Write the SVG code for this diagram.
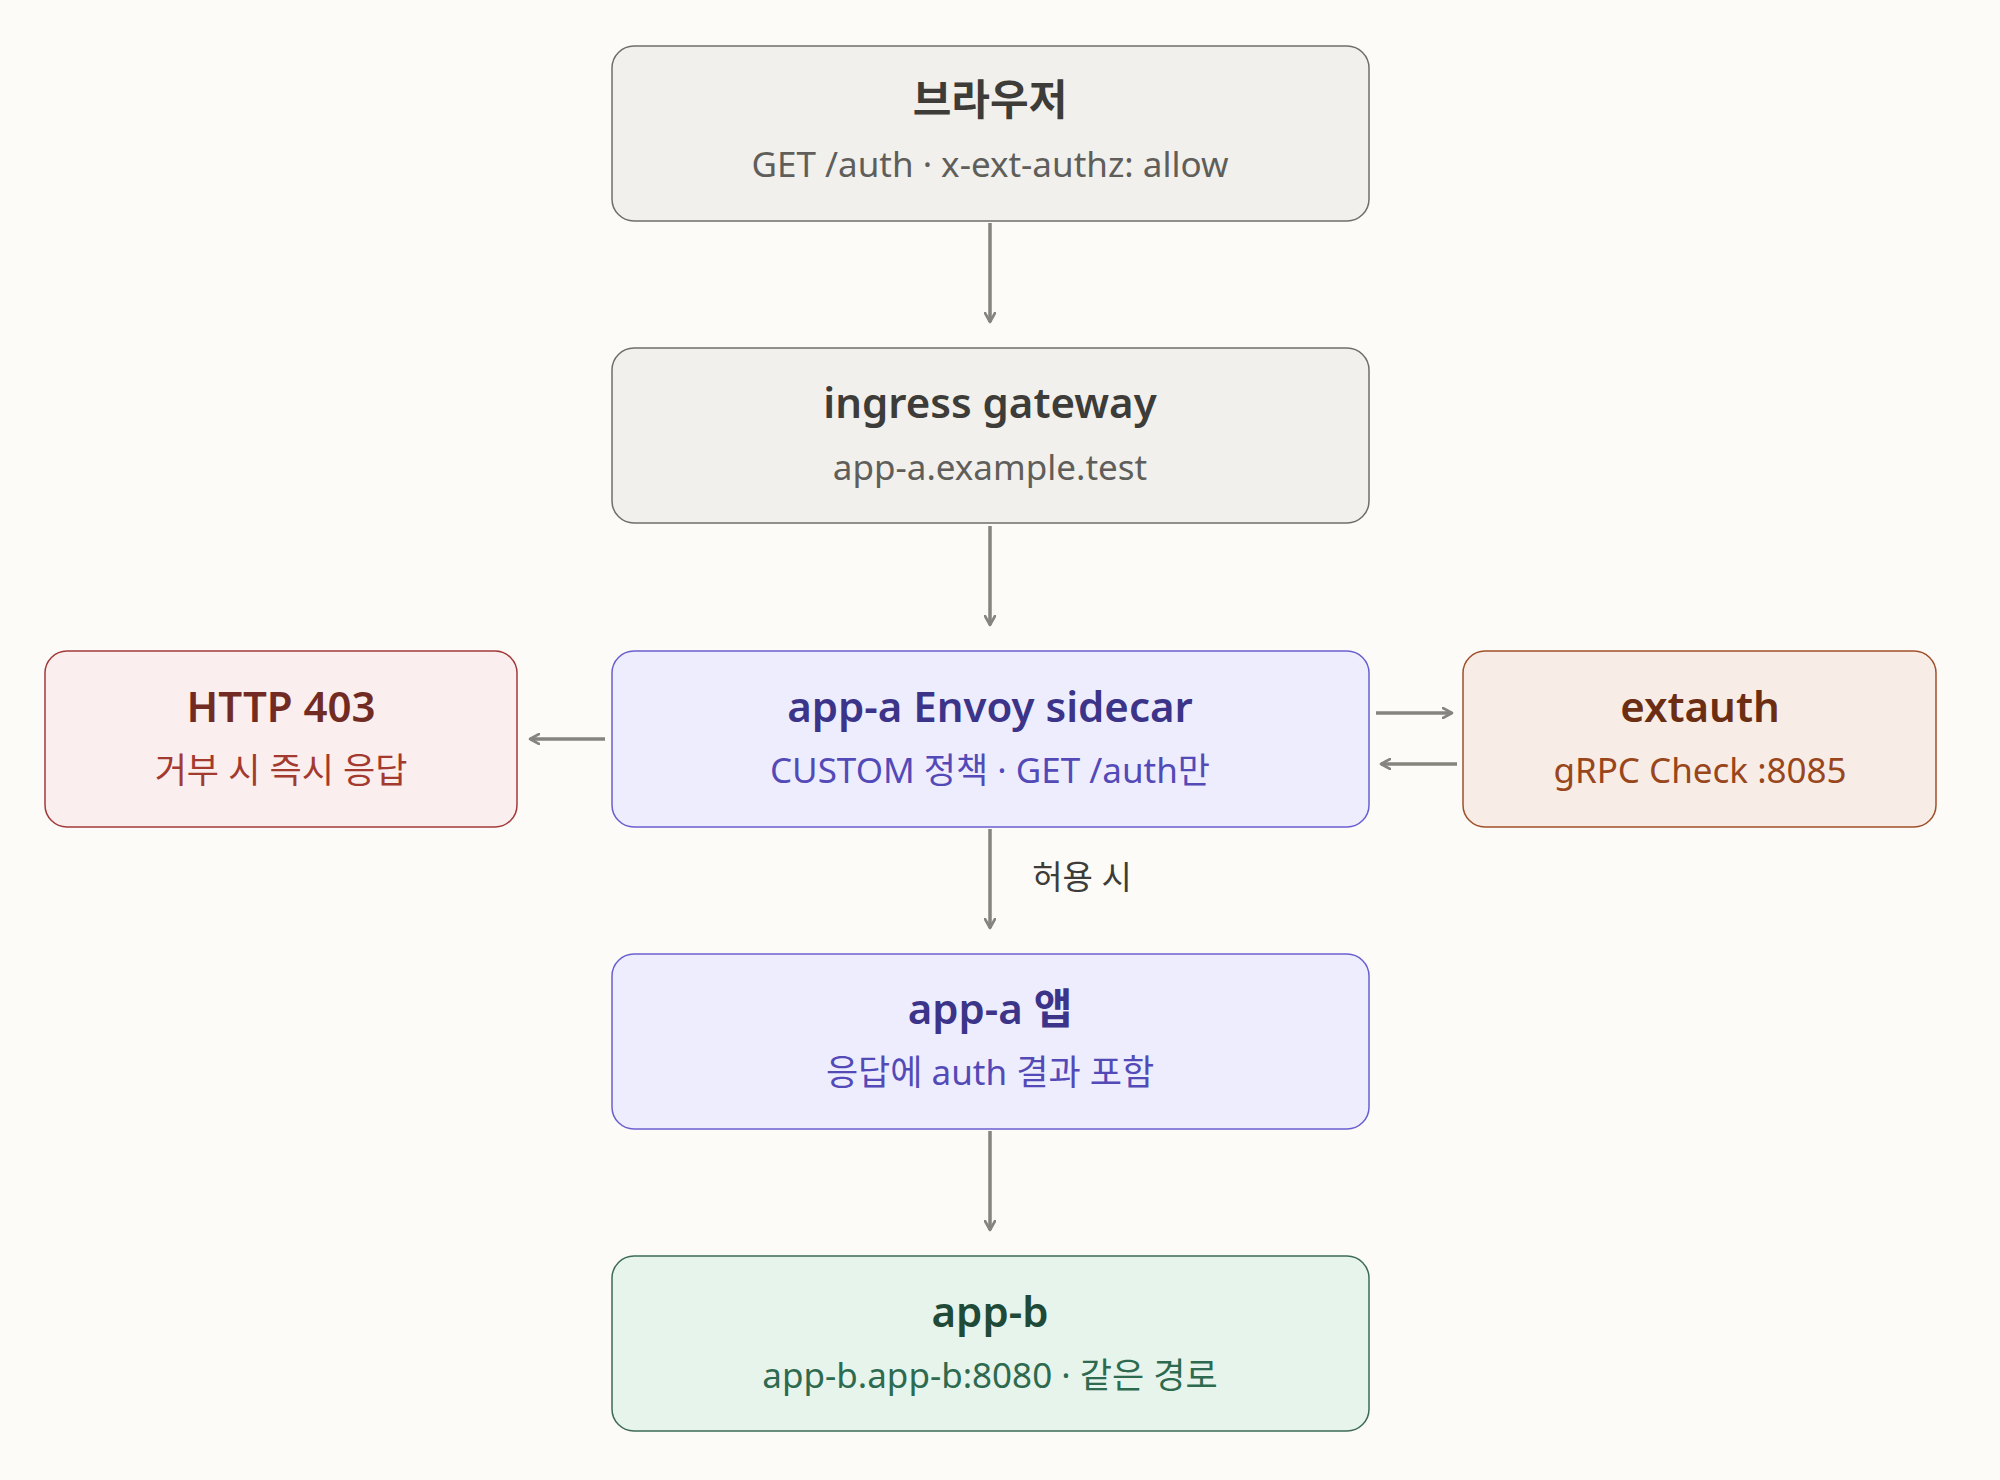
<svg xmlns="http://www.w3.org/2000/svg" width="2000" height="1480" viewBox="0 0 2000 1480">
<defs>
<marker id="ah" viewBox="0 0 12 12" refX="10" refY="6" markerWidth="12" markerHeight="12" markerUnits="userSpaceOnUse" orient="auto"><path d="M1 1 L10 6 L1 11" fill="none" stroke="#85847e" stroke-width="2.6" stroke-linecap="round" stroke-linejoin="round"/></marker>
<style>
text{font-family:"Noto Sans","Noto Sans CJK KR",sans-serif;text-anchor:middle}
.t{font-size:42px;font-weight:600}
.s{font-size:35px}
.c line{stroke:#85847e;stroke-width:3.5;marker-end:url(#ah)}
.g rect{fill:#f1f0ec;stroke:#6f6e69}
.g .t{fill:#3d3c38}.g .s{fill:#5f5e5a}
.p rect{fill:#eeedfe;stroke:#6a5fd0}
.p .t{fill:#3c3489}.p .s{fill:#534ab7}
.r rect{fill:#fbeeee;stroke:#a33a3a}
.r .t{fill:#712b22}.r .s{fill:#a33a2f}
.o rect{fill:#f8ece6;stroke:#a0502a}
.o .t{fill:#6b2e12}.o .s{fill:#98461c}
.e rect{fill:#e6f4ec;stroke:#3d6b55}
.e .t{fill:#1f4a37}.e .s{fill:#2d6a4f}
rect{stroke-width:1.5}
</style>
</defs>
<rect width="2000" height="1480" fill="#fcfbf8"/>
<g id="browser" class="g"><rect x="612" y="46" width="757" height="175" rx="22"/><text class="t" x="990" y="115">브라우저</text><text class="s" x="990" y="177">GET /auth · x-ext-authz: allow</text></g>
<g id="ingress" class="g"><rect x="612" y="348" width="757" height="175" rx="22"/><text class="t" x="990" y="418">ingress gateway</text><text class="s" x="990" y="480">app-a.example.test</text></g>
<g id="envoy" class="p"><rect x="612" y="651" width="757" height="176" rx="22"/><text class="t" x="990" y="722">app-a Envoy sidecar</text><text class="s" x="990" y="783">CUSTOM 정책 · GET /auth만</text></g>
<g id="http403" class="r"><rect x="45" y="651" width="472" height="176" rx="22"/><text class="t" x="281" y="722">HTTP 403</text><text class="s" x="281" y="783">거부 시 즉시 응답</text></g>
<g id="extauth" class="o"><rect x="1463" y="651" width="473" height="176" rx="22"/><text class="t" x="1700" y="722">extauth</text><text class="s" x="1700" y="783">gRPC Check :8085</text></g>
<g id="appa" class="p"><rect x="612" y="954" width="757" height="175" rx="22"/><text class="t" x="990" y="1024">app-a 앱</text><text class="s" x="990" y="1085">응답에 auth 결과 포함</text></g>
<g id="appb" class="e"><rect x="612" y="1256" width="757" height="175" rx="22"/><text class="t" x="990" y="1327">app-b</text><text class="s" x="990" y="1388">app-b.app-b:8080 · 같은 경로</text></g>
<g id="connectors" class="c">
<line x1="990" y1="223" x2="990" y2="322"/>
<line x1="990" y1="526" x2="990" y2="625"/>
<line x1="990" y1="829" x2="990" y2="928"/>
<line x1="990" y1="1131" x2="990" y2="1230"/>
<line x1="605" y1="739" x2="530" y2="739"/>
<line x1="1376" y1="713" x2="1452" y2="713"/>
<line x1="1457" y1="764" x2="1381" y2="764"/>
<text x="1082" y="889" style="font-size:33px;fill:#3d3c38">허용 시</text>
</g>
</svg>
